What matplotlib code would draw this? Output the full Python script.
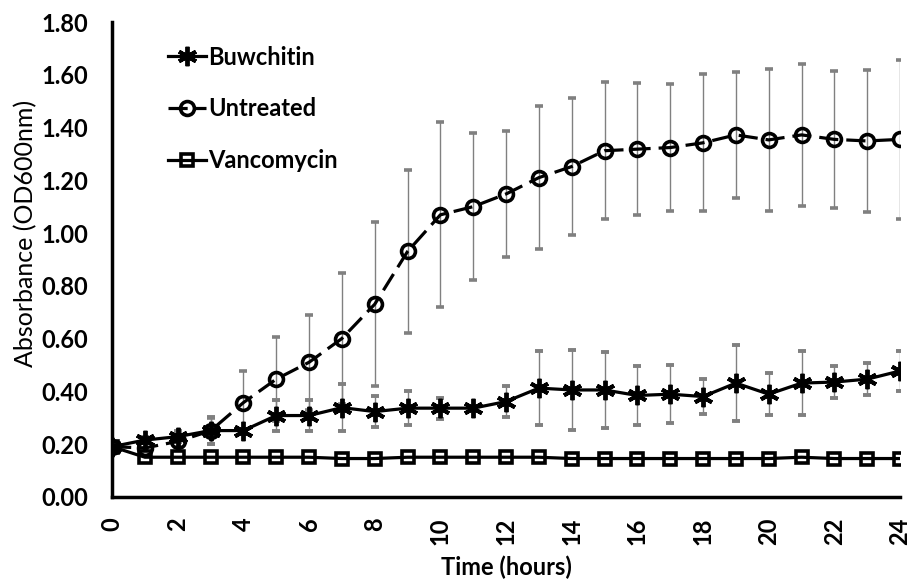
import matplotlib
matplotlib.use("Agg")
import matplotlib.pyplot as plt
from matplotlib.lines import Line2D

plt.rcParams["font.family"] = ["Lato", "DejaVu Sans"]

hours = list(range(25))

buwchitin = [0.19, 0.215, 0.228, 0.251, 0.251, 0.308, 0.308, 0.338, 0.323, 0.336, 0.336, 0.336, 0.361,
             0.412, 0.405, 0.405, 0.384, 0.389, 0.380, 0.431, 0.389, 0.431, 0.435, 0.446, 0.477]
buwchitin_err = [0.0, 0.01, 0.02, 0.05, 0.0, 0.06, 0.06, 0.09, 0.06, 0.065, 0.04, 0.0, 0.06,
                 0.14, 0.15, 0.145, 0.11, 0.11, 0.065, 0.145, 0.08, 0.12, 0.06, 0.06, 0.075]

untreated = [0.19, 0.185, 0.21, 0.25, 0.357, 0.446, 0.51, 0.60, 0.73, 0.93, 1.069, 1.10, 1.148,
             1.21, 1.252, 1.312, 1.318, 1.324, 1.342, 1.372, 1.353, 1.372, 1.355, 1.349, 1.355]
untreated_err = [0.0, 0.0, 0.02, 0.05, 0.12, 0.16, 0.18, 0.25, 0.31, 0.31, 0.35, 0.28, 0.24,
                 0.27, 0.26, 0.26, 0.25, 0.24, 0.26, 0.24, 0.27, 0.27, 0.26, 0.27, 0.30]

vancomycin = [0.19, 0.15, 0.15, 0.15, 0.15, 0.15, 0.15, 0.145, 0.145, 0.15, 0.15, 0.15, 0.15,
              0.15, 0.145, 0.145, 0.145, 0.145, 0.145, 0.145, 0.145, 0.15, 0.145, 0.145, 0.145]

x_ticks = list(range(0, 25, 2))
y_ticks = [0.0, 0.2, 0.4, 0.6, 0.8, 1.0, 1.2, 1.4, 1.6, 1.8]

fig = plt.figure(figsize=(9.11, 5.79), dpi=100)
ax = fig.add_axes([0.123, 0.142, 0.865, 0.820])

err_style = dict(ecolor="#808080", elinewidth=1.0, capsize=3, capthick=1.0)

# style per series
buw_style = dict(color="black", lw=2.3, marker=(6, 2, 0), markersize=14, markeredgewidth=2.8)
unt_style = dict(color="black", lw=2.3, dashes=(6, 2.5), marker="o", markersize=10,
                 markerfacecolor="none", markeredgewidth=2.6)
van_style = dict(color="black", lw=2.3, marker="s", markersize=9,
                 markerfacecolor="none", markeredgewidth=2.6)

ax.errorbar(hours, buwchitin, yerr=buwchitin_err, zorder=3, **buw_style, **err_style)
ax.errorbar(hours, untreated, yerr=untreated_err, zorder=3, **unt_style, **err_style)
ax.plot(hours, vancomycin, zorder=3, **van_style)

ax.set_xlim(0, 24)
ax.set_ylim(0, 1.8)
ax.set_xticks(x_ticks)
ax.set_yticks(y_ticks)
ax.tick_params(axis="x", length=0, pad=15)
ax.tick_params(axis="y", length=0, pad=17)

for side in ["top", "right"]:
    ax.spines[side].set_visible(False)
for side in ["left", "bottom"]:
    ax.spines[side].set_linewidth(2.5)

ax.set_xticklabels([str(t) for t in x_ticks], rotation=90, fontsize=17, fontweight="bold")
ax.set_yticklabels([f"{v:.2f}" for v in y_ticks], fontsize=17, fontweight="bold")

ax.set_xlabel("Time (hours)", fontsize=17, fontweight="bold")
ax.xaxis.set_label_coords(0.5, -0.123)
ax.set_ylabel("Absorbance (OD600nm)", fontsize=18)
ax.yaxis.set_label_coords(-0.095, 0.554)

handles = [Line2D([], [], **buw_style), Line2D([], [], **unt_style), Line2D([], [], **van_style)]
labels = ["Buwchitin", "Untreated", "Vancomycin"]
ax.legend(handles, labels, loc="upper left", bbox_to_anchor=(0.044, 0.995), frameon=False,
          handlelength=1.6, handletextpad=0.1, labelspacing=1.22,
          prop={"weight": "bold", "size": 17})

fig.savefig("out.png", dpi=100)
